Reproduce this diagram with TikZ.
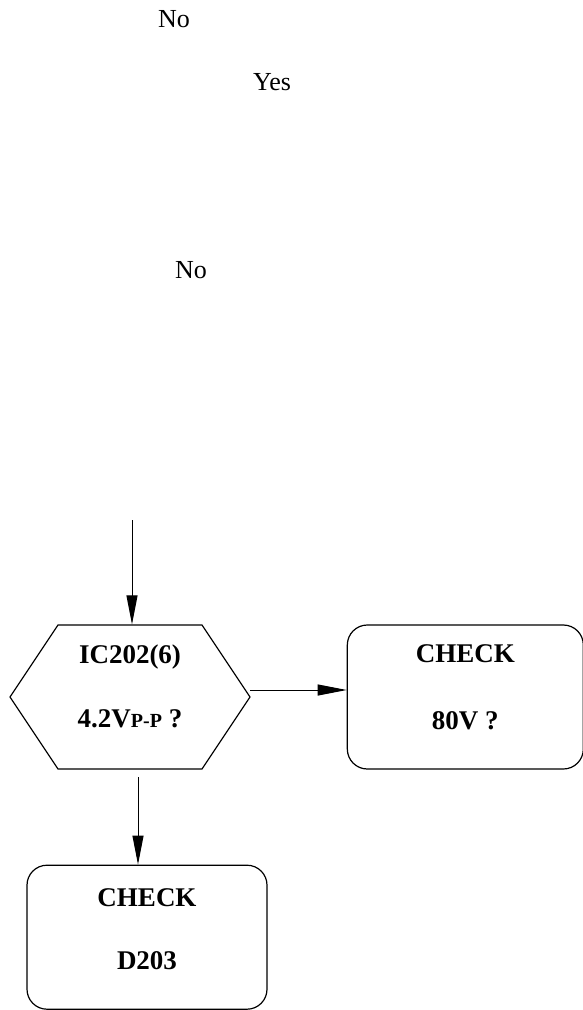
\documentclass[tikz,border=0pt]{standalone}
\usepackage{fontspec}
\setmainfont{Liberation Serif}
\usetikzlibrary{positioning}
\usetikzlibrary{shapes.symbols}
\usetikzlibrary{arrows.meta}

\tikzset{
  flowbox/.style={draw,line width=1.2pt,rounded corners=20pt,minimum width=240pt,minimum height=144pt,
    align=center,font=\fontsize{27}{30}\selectfont\bfseries,text height=82pt,text depth=17pt},
  hexbox/.style={draw,line width=1.2pt,signal,signal to=east and west,signal pointer angle=112.6,
    minimum width=240pt,minimum height=144pt,inner sep=0pt,
    align=center,font=\fontsize{27}{30}\selectfont\bfseries,text height=82pt,text depth=21pt}
}

\begin{document}
\begin{tikzpicture}[x=1pt,y=-1pt,font=\fontsize{26}{30}\selectfont,line width=1pt,>={Triangle[length=29pt,width=11pt]}]
		\useasboundingbox (0,0) rectangle (583,1010);
		\node (no1) at (174,19) {No};
		\node (yes) at (272,82) {Yes};
		\node (no2) at (191,270) {No};
		\node [hexbox] (ic) at (130,697) {IC202(6)\\[34pt]4.2V{\fontsize{20}{22}\selectfont P-P} ?};
		\node [flowbox,minimum width=236pt,right=96pt of ic] (chk80) {CHECK\\[37pt]80V ?};
		\node [flowbox,below=95pt of ic,xshift=17pt] (chkd) {CHECK\\[33pt]D203};
		\coordinate (in) at (132,520);
		\coordinate (outr) at (250,690);
		\coordinate (outd) at (138,777);
		\draw [->] (in) -- (in |- ic.north);
		\draw [->] (outr) -- (outr -| chk80.west);
		\draw [->] (outd) -- (outd |- chkd.north);
	\end{tikzpicture}
\end{document}
